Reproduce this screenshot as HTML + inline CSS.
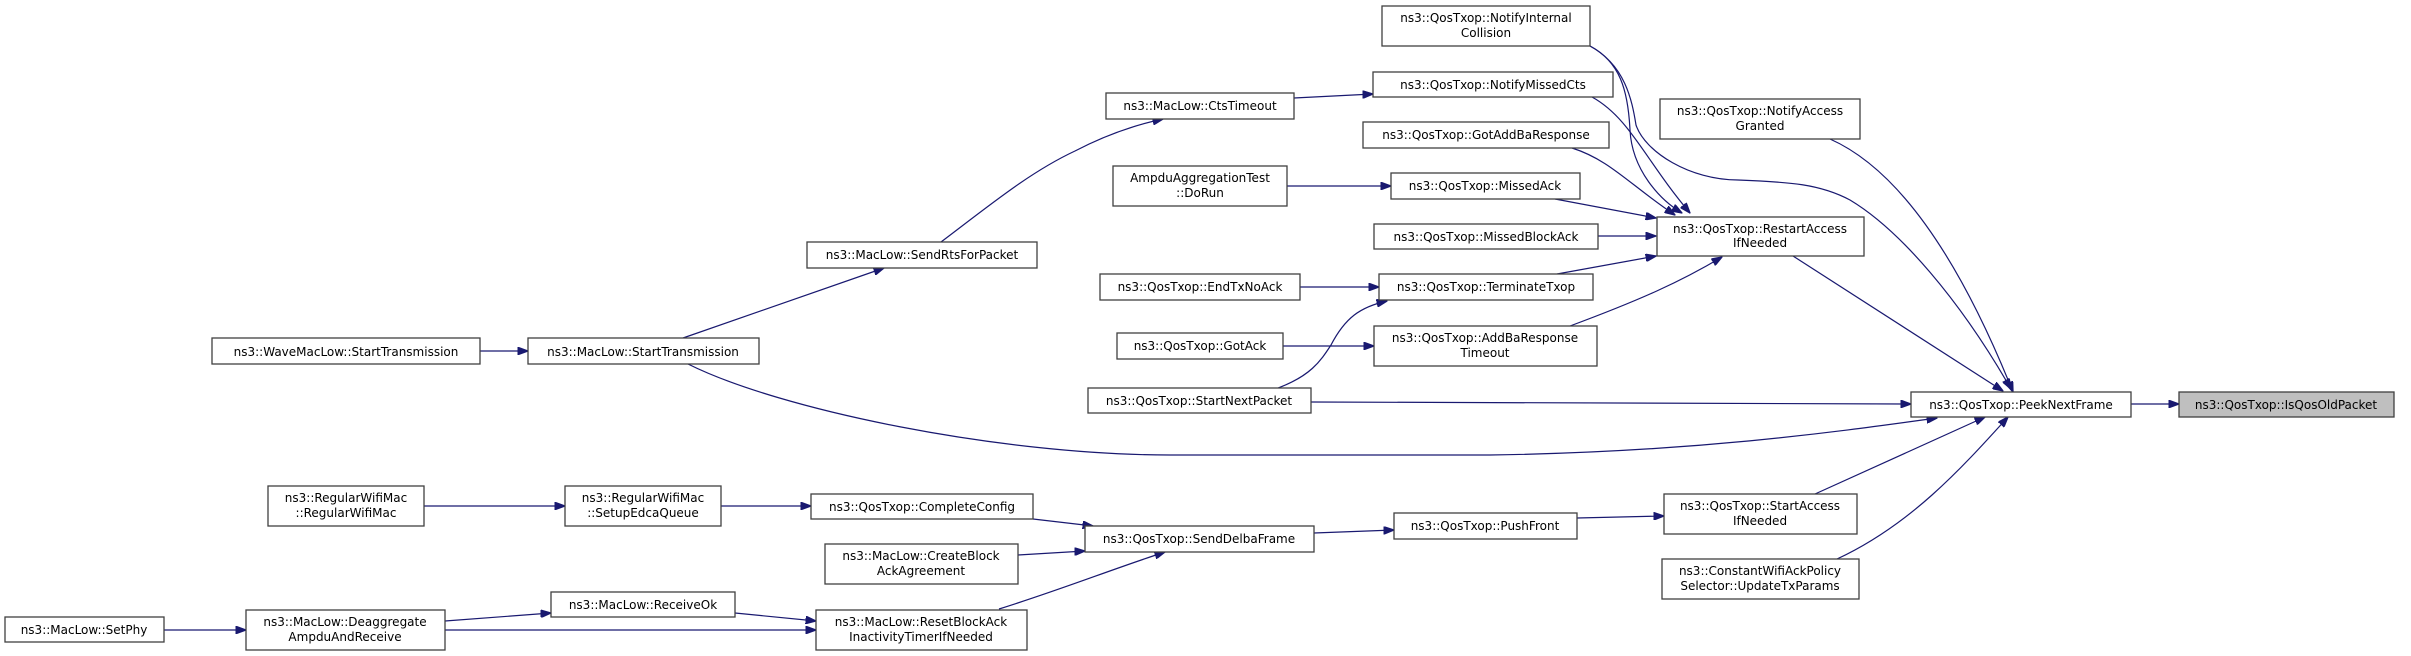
<!DOCTYPE html>
<html><head><meta charset="utf-8"><style>
html,body{margin:0;padding:0;background:#fff;}
svg{display:block;}
text{font-family:"DejaVu Sans","Liberation Sans",sans-serif;font-size:12px;fill:#000;text-anchor:middle;}
.b{fill:#fff;stroke:#404040;stroke-width:1.3;}
.e{fill:none;stroke:#191970;stroke-width:1.2;}
</style></head><body>
<svg width="2411" height="656" viewBox="0 0 2411 656" xmlns="http://www.w3.org/2000/svg">
<defs>
<marker id="a" markerWidth="11" markerHeight="8" refX="10.5" refY="4" orient="auto" markerUnits="userSpaceOnUse">
<path d="M0,0 L11,4 L0,8 Z" fill="#191970" stroke="#191970"/>
</marker>
</defs>

<g class="e" marker-end="url(#a)">
<path d="M480,351 L528,351"/>
<path d="M683,338 L884,268"/>
<path d="M941,242 C990,205 1030,172 1075,151 C1100,138 1130,126 1163,119"/>
<path d="M1294,98 L1373,94"/>
<path d="M688,364 C780,410 1000,455 1170,455 L1490,455 C1700,452 1850,430 1937,418"/>
<path d="M1287,186 L1391,186"/>
<path d="M1300,287 L1379,287"/>
<path d="M1283,346 L1374,346"/>
<path d="M1278,388 C1310,376 1320,362 1331,345 C1345,318 1360,307 1387,301"/>
<path d="M1311,402 L1911,404"/>
<path d="M1590,46 C1620,62 1628,90 1630,130 C1632,170 1660,200 1682,213"/>
<path d="M1590,46 C1625,65 1632,100 1636,125 C1645,152 1690,180 1738,180 C1790,182 1820,184 1850,200 C1900,230 1960,300 2011,389"/>
<path d="M1592,97 C1630,118 1645,160 1690,213"/>
<path d="M1572,148 C1610,160 1630,185 1675,215"/>
<path d="M1555,199 L1656,218"/>
<path d="M1598,236 L1656,236"/>
<path d="M1557,274 L1656,256"/>
<path d="M1570,326 C1640,300 1680,282 1722,257"/>
<path d="M1793,256 L2003,391"/>
<path d="M1830,139 C1900,170 1960,260 2013,392"/>
<path d="M2131,404 L2179,404"/>
<path d="M1815,494 L1985,417"/>
<path d="M1837,559 C1910,525 1960,470 2008,417"/>
<path d="M1577,518 L1664,516"/>
<path d="M1314,533 L1394,530"/>
<path d="M1033,519 L1093,526"/>
<path d="M1018,555 L1085,551"/>
<path d="M999,609 C1060,590 1110,570 1165,552"/>
<path d="M721,506 L811,506"/>
<path d="M424,506 L565,506"/>
<path d="M164,630 L246,630"/>
<path d="M445,621 L551,613"/>
<path d="M445,630 L816,630"/>
<path d="M735,613 L816,621"/>
</g>

<g>
<rect class="b" x="212" y="338" width="268" height="26"/><text x="346" y="356">ns3::WaveMacLow::StartTransmission</text>
<rect class="b" x="528" y="338" width="231" height="26"/><text x="643" y="356">ns3::MacLow::StartTransmission</text>
<rect class="b" x="268" y="486" width="156" height="40"/><text x="346" y="502">ns3::RegularWifiMac</text><text x="346" y="517">::RegularWifiMac</text>
<rect class="b" x="565" y="486" width="156" height="40"/><text x="643" y="502">ns3::RegularWifiMac</text><text x="643" y="517">::SetupEdcaQueue</text>
<rect class="b" x="551" y="592" width="184" height="25"/><text x="643" y="609">ns3::MacLow::ReceiveOk</text>
<rect class="b" x="5" y="617" width="159" height="25"/><text x="84" y="634">ns3::MacLow::SetPhy</text>
<rect class="b" x="246" y="610" width="199" height="40"/><text x="345" y="626">ns3::MacLow::Deaggregate</text><text x="345" y="641">AmpduAndReceive</text>

<rect class="b" x="1382" y="6" width="208" height="40"/><text x="1486" y="22">ns3::QosTxop::NotifyInternal</text><text x="1486" y="37">Collision</text>
<rect class="b" x="1373" y="72" width="240" height="25"/><text x="1493" y="89">ns3::QosTxop::NotifyMissedCts</text>
<rect class="b" x="1106" y="93" width="188" height="26"/><text x="1200" y="110">ns3::MacLow::CtsTimeout</text>
<rect class="b" x="1363" y="122" width="246" height="26"/><text x="1486" y="139">ns3::QosTxop::GotAddBaResponse</text>
<rect class="b" x="1113" y="166" width="174" height="40"/><text x="1200" y="182">AmpduAggregationTest</text><text x="1200" y="197">::DoRun</text>
<rect class="b" x="1391" y="173" width="189" height="26"/><text x="1485" y="190">ns3::QosTxop::MissedAck</text>
<rect class="b" x="1374" y="224" width="224" height="25"/><text x="1486" y="241">ns3::QosTxop::MissedBlockAck</text>
<rect class="b" x="807" y="242" width="230" height="26"/><text x="922" y="259">ns3::MacLow::SendRtsForPacket</text>
<rect class="b" x="1100" y="274" width="200" height="26"/><text x="1200" y="291">ns3::QosTxop::EndTxNoAck</text>
<rect class="b" x="1379" y="274" width="214" height="26"/><text x="1486" y="291">ns3::QosTxop::TerminateTxop</text>
<rect class="b" x="1117" y="333" width="166" height="26"/><text x="1200" y="350">ns3::QosTxop::GotAck</text>
<rect class="b" x="1374" y="326" width="223" height="40"/><text x="1485" y="342">ns3::QosTxop::AddBaResponse</text><text x="1485" y="357">Timeout</text>
<rect class="b" x="1088" y="388" width="223" height="25"/><text x="1199" y="405">ns3::QosTxop::StartNextPacket</text>
<rect class="b" x="811" y="494" width="222" height="25"/><text x="922" y="511">ns3::QosTxop::CompleteConfig</text>
<rect class="b" x="1085" y="526" width="229" height="26"/><text x="1199" y="543">ns3::QosTxop::SendDelbaFrame</text>
<rect class="b" x="1394" y="513" width="183" height="26"/><text x="1485" y="530">ns3::QosTxop::PushFront</text>
<rect class="b" x="825" y="544" width="193" height="40"/><text x="921" y="560">ns3::MacLow::CreateBlock</text><text x="921" y="575">AckAgreement</text>
<rect class="b" x="816" y="610" width="211" height="40"/><text x="921" y="626">ns3::MacLow::ResetBlockAck</text><text x="921" y="641">InactivityTimerIfNeeded</text>

<rect class="b" x="1660" y="99" width="200" height="40"/><text x="1760" y="115">ns3::QosTxop::NotifyAccess</text><text x="1760" y="130">Granted</text>
<rect class="b" x="1657" y="217" width="207" height="39"/><text x="1760" y="233">ns3::QosTxop::RestartAccess</text><text x="1760" y="247">IfNeeded</text>
<rect class="b" x="1911" y="392" width="220" height="25"/><text x="2021" y="409">ns3::QosTxop::PeekNextFrame</text>
<rect x="2179" y="392" width="215" height="25" fill="#bfbfbf" stroke="#404040" stroke-width="1.3"/><text x="2286" y="409">ns3::QosTxop::IsQosOldPacket</text>
<rect class="b" x="1664" y="494" width="193" height="40"/><text x="1760" y="510">ns3::QosTxop::StartAccess</text><text x="1760" y="525">IfNeeded</text>
<rect class="b" x="1662" y="559" width="197" height="40"/><text x="1760" y="575">ns3::ConstantWifiAckPolicy</text><text x="1760" y="590">Selector::UpdateTxParams</text>
</g>
</svg>
</body></html>
